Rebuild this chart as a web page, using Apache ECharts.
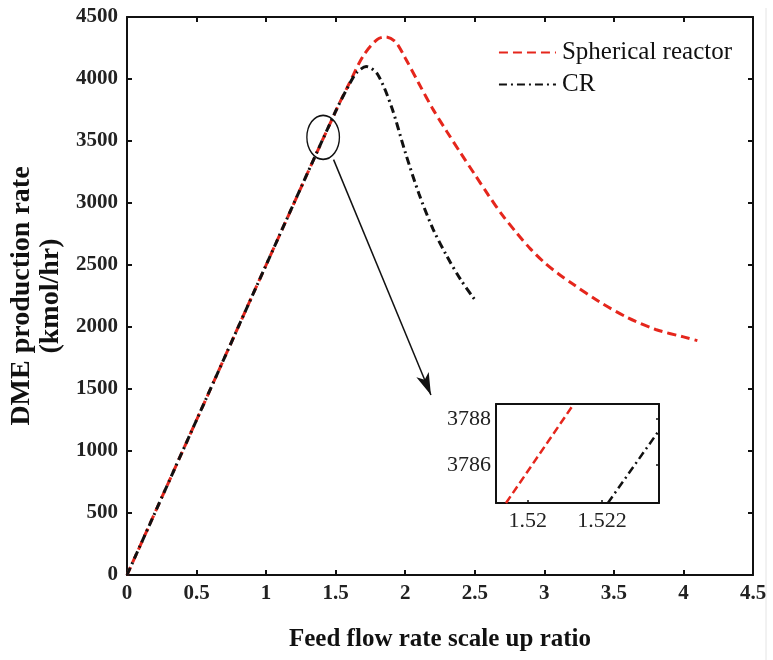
<!DOCTYPE html>
<html>
<head>
<meta charset="utf-8">
<script src="https://cdn.jsdelivr.net/npm/echarts@6/dist/echarts.min.js"></script>
<style>
html, body { margin: 0; padding: 0; background: #fff; }
#chart { width: 773px; height: 660px; }
</style>
</head>
<body>
<div id="chart"></div>
<script>
// values
var sphericalRatio = [0, 0.5, 1.0, 1.5, 1.6, 1.7, 1.8, 1.86, 1.93, 2.0, 2.1, 2.2, 2.3, 2.4, 2.5, 2.6, 2.7, 2.8, 2.9, 3.0, 3.1, 3.2, 3.4, 3.6, 3.8, 4.0, 4.1]
var sphericalRate = [0, 1250, 2500, 3740, 3970, 4190, 4320, 4340, 4300, 4170, 3960, 3755, 3575, 3400, 3230, 3060, 2900, 2760, 2630, 2520, 2430, 2350, 2200, 2075, 1980, 1920, 1890]
var crRatio = [0, 0.5, 1.0, 1.5, 1.6, 1.65, 1.72, 1.8, 1.9, 2.0, 2.1, 2.2, 2.3, 2.4, 2.5]
var crRate = [0, 1250, 2500, 3740, 3960, 4050, 4100, 4040, 3780, 3410, 3070, 2790, 2570, 2380, 2220]

// zoomed inset
var insetSphRatio = [1.51941, 1.52124]
var insetSphRate = [3784.35, 3788.65]
var insetCrRatio = [1.52216, 1.52351]
var insetCrRate = [3784.35, 3787.43]
var insetXTicks = [1.52, 1.522]
var insetYTicks = [3786, 3788]

function pairs(xs, ys) {
    var out = []
    for (let i = 0; i < xs.length; ++i) out.push([xs[i], ys[i]])
    return out
}

var font = 'Liberation Serif'
var red = '#e5261c'
var chart = echarts.init(document.getElementById('chart'))

var frameAxis = {
    axisLine: { show: true, onZero: false, lineStyle: { color: '#111', width: 2 } },
    axisTick: { show: true, inside: true, length: 5, lineStyle: { color: '#111', width: 2 } },
    splitLine: { show: false }
}
var insetLine = { show: true, onZero: false, lineStyle: { color: '#111', width: 2 } }
var plain = function (v) { return String(v) }

chart.setOption({
    animation: false,
    backgroundColor: '#fff',
    grid: [
        { left: 127, top: 17, width: 626, height: 558, outerBoundsMode: 'none' },
        { left: 496, top: 404, width: 163, height: 99, outerBoundsMode: 'none', backgroundColor: '#fff', show: true, borderWidth: 0 }
    ],
    legend: {
        right: 36,
        top: 35,
        orient: 'vertical',
        itemWidth: 57,
        itemHeight: 14,
        itemGap: 7,
        itemStyle: { opacity: 0 },
        data: ['Spherical reactor', 'CR'],
        textStyle: { fontFamily: font, fontSize: 25, color: '#111', padding: [0, 0, 0, 1] }
    },
    xAxis: [
        Object.assign({}, frameAxis, {
            type: 'value', gridIndex: 0, min: 0, max: 4.5, interval: 0.5,
            axisLabel: { fontFamily: font, fontSize: 21, fontWeight: 'bold', color: '#222', margin: 8 },
            name: 'Feed flow rate scale up ratio', nameLocation: 'middle', nameGap: 52,
            nameTextStyle: { fontFamily: font, fontSize: 25, fontWeight: 'bold', color: '#111' }
        }),
        Object.assign({}, frameAxis, {
            type: 'value', gridIndex: 0, min: 0, max: 4.5, interval: 0.5, position: 'top',
            axisLabel: { show: false }
        }),
        {
            type: 'value', gridIndex: 1, min: 1.51914, max: 1.52354,
            axisLine: insetLine,
            axisTick: { show: true, inside: true, length: 3, customValues: insetXTicks, lineStyle: { color: '#111', width: 1.5 } },
            axisLabel: { customValues: insetXTicks, fontFamily: font, fontSize: 22, color: '#222', margin: 7, formatter: plain },
            splitLine: { show: false }
        },
        {
            type: 'value', gridIndex: 1, min: 1.51914, max: 1.52354, position: 'top',
            axisLine: insetLine,
            axisTick: { show: false }, axisLabel: { show: false }, splitLine: { show: false }
        }
    ],
    yAxis: [
        Object.assign({}, frameAxis, {
            type: 'value', gridIndex: 0, min: 0, max: 4500, interval: 500,
            axisLabel: { fontFamily: font, fontSize: 21, fontWeight: 'bold', color: '#222', margin: 9, formatter: plain },
            name: 'DME production rate\n(kmol/hr)', nameLocation: 'middle', nameGap: 62, nameRotate: 90,
            nameMoveOverlap: false,
            nameTextStyle: { fontFamily: font, fontSize: 28, fontWeight: 'bold', color: '#111', lineHeight: 29 }
        }),
        Object.assign({}, frameAxis, {
            type: 'value', gridIndex: 0, min: 0, max: 4500, interval: 500, position: 'right',
            axisLabel: { show: false }
        }),
        {
            type: 'value', gridIndex: 1, min: 3784.35, max: 3788.65,
            axisLine: insetLine,
            axisTick: { show: false },
            axisLabel: { customValues: insetYTicks, fontFamily: font, fontSize: 22, color: '#222', margin: 5, formatter: plain },
            splitLine: { show: false }
        },
        {
            type: 'value', gridIndex: 1, min: 3784.35, max: 3788.65, position: 'right',
            axisLine: insetLine,
            axisTick: { show: true, inside: true, length: 3, customValues: insetYTicks, lineStyle: { color: '#111', width: 1.5 } },
            axisLabel: { show: false }, splitLine: { show: false }
        }
    ],
    series: [
        {
            name: 'Spherical reactor', type: 'line', xAxisIndex: 0, yAxisIndex: 0,
            data: pairs(sphericalRatio, sphericalRate), smooth: 0.3, showSymbol: false, symbol: 'none',
            itemStyle: { color: red },
            lineStyle: { color: red, width: 3, type: [9, 5] }
        },
        {
            name: 'CR', type: 'line', xAxisIndex: 0, yAxisIndex: 0,
            data: pairs(crRatio, crRate), smooth: 0.3, showSymbol: false, symbol: 'none',
            itemStyle: { color: '#111' },
            lineStyle: { color: '#111', width: 3, type: [8, 4, 2, 4] },
            markLine: {
                silent: true, symbol: ['none', 'arrow'], symbolSize: [10, 22],
                lineStyle: { color: '#111', width: 1.5, type: 'solid' },
                label: { show: false },
                data: [[{ coord: [1.485, 3350] }, { coord: [2.185, 1452] }]]
            }
        },
        {
            name: 'insetSpherical', type: 'line', xAxisIndex: 2, yAxisIndex: 2,
            data: pairs(insetSphRatio, insetSphRate), showSymbol: false, symbol: 'none', clip: true,
            lineStyle: { color: red, width: 2.5, type: [8, 4] }
        },
        {
            name: 'insetCR', type: 'line', xAxisIndex: 2, yAxisIndex: 2,
            data: pairs(insetCrRatio, insetCrRate), showSymbol: false, symbol: 'none', clip: true,
            lineStyle: { color: '#111', width: 2.5, type: [8, 4, 2, 4] }
        }
    ]
})

// circle marking the zoomed region
var c = chart.convertToPixel({ gridIndex: 0 }, [1.41, 3530])
chart.setOption({
    graphic: [
        {
            type: 'circle', x: c[0], y: c[1], scaleX: 0.74, scaleY: 1,
            shape: { cx: 0, cy: 0, r: 22 },
            style: { fill: 'none', stroke: '#111', lineWidth: 1.8 }
        },
        {
            type: 'line', shape: { x1: 766, y1: 8, x2: 766, y2: 660 },
            style: { stroke: '#e4e4e4', lineWidth: 1 }
        }
    ]
})
</script>
</body>
</html>
